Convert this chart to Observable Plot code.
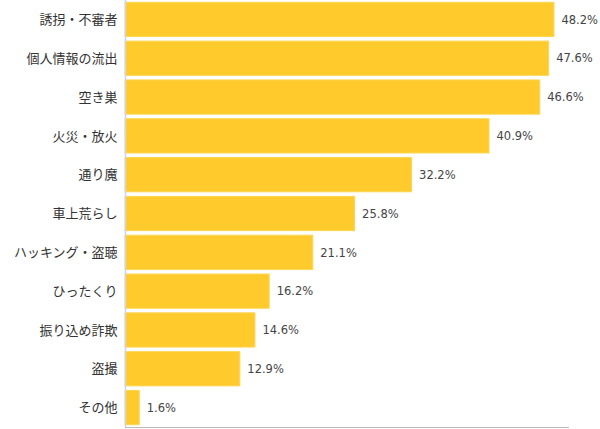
<!DOCTYPE html>
<html><head><meta charset="utf-8">
<script src="https://cdn.jsdelivr.net/npm/d3@7"></script>
<script src="https://cdn.jsdelivr.net/npm/@observablehq/plot@0.6"></script>
<style>body{margin:0;background:#fff}</style>
</head><body><div id="chart"></div>
<script>
const categories = ["誘拐・不審者","個人情報の流出","空き巣","火災・放火","通り魔","車上荒らし","ハッキング・盗聴","ひったくり","振り込め詐欺","盗撮","その他"];
const values = [48.2, 47.6, 46.6, 40.9, 32.2, 25.8, 21.1, 16.2, 14.6, 12.9, 1.6];
const data = categories.map((c, i) => ({category: c, value: values[i]}));

const chart = Plot.plot({
  width: 600, height: 429,
  marginLeft: 125, marginRight: 30, marginTop: 0, marginBottom: 2,
  style: {fontFamily: "'DejaVu Sans', 'Noto Sans CJK JP', sans-serif", background: "#fff"},
  x: {domain: [0, 50], axis: null},
  y: {domain: categories, padding: 0, round: false, axis: null},
  marks: [
    Plot.barX(data, {x: "value", y: "category", fill: "#FFCA2C", stroke: "#FFD54F", strokeWidth: 1, insetTop: 2.3, insetBottom: 2.3}),
    Plot.ruleX([0], {stroke: "#CDD5EA", strokeWidth: 1.5}),
    Plot.axisY({tickSize: 0, tickPadding: 8, fontSize: 13, fill: "#333", fontFamily: "'Noto Sans CJK JP', sans-serif", label: null}),
    Plot.text(data, {x: "value", y: "category", text: d => d.value.toFixed(1) + "%", textAnchor: "start", dx: 7, fontSize: 11.5, fill: "#444"})
  ]
});
document.getElementById("chart").appendChild(chart);
// bottom baseline from x=0 to x=50
const svg = d3.select(chart);
svg.append("line").attr("x1", 125).attr("x2", 569).attr("y1", 427.5).attr("y2", 427.5).attr("stroke", "#BBBBBB").attr("stroke-width", 1);
</script>
</body></html>
